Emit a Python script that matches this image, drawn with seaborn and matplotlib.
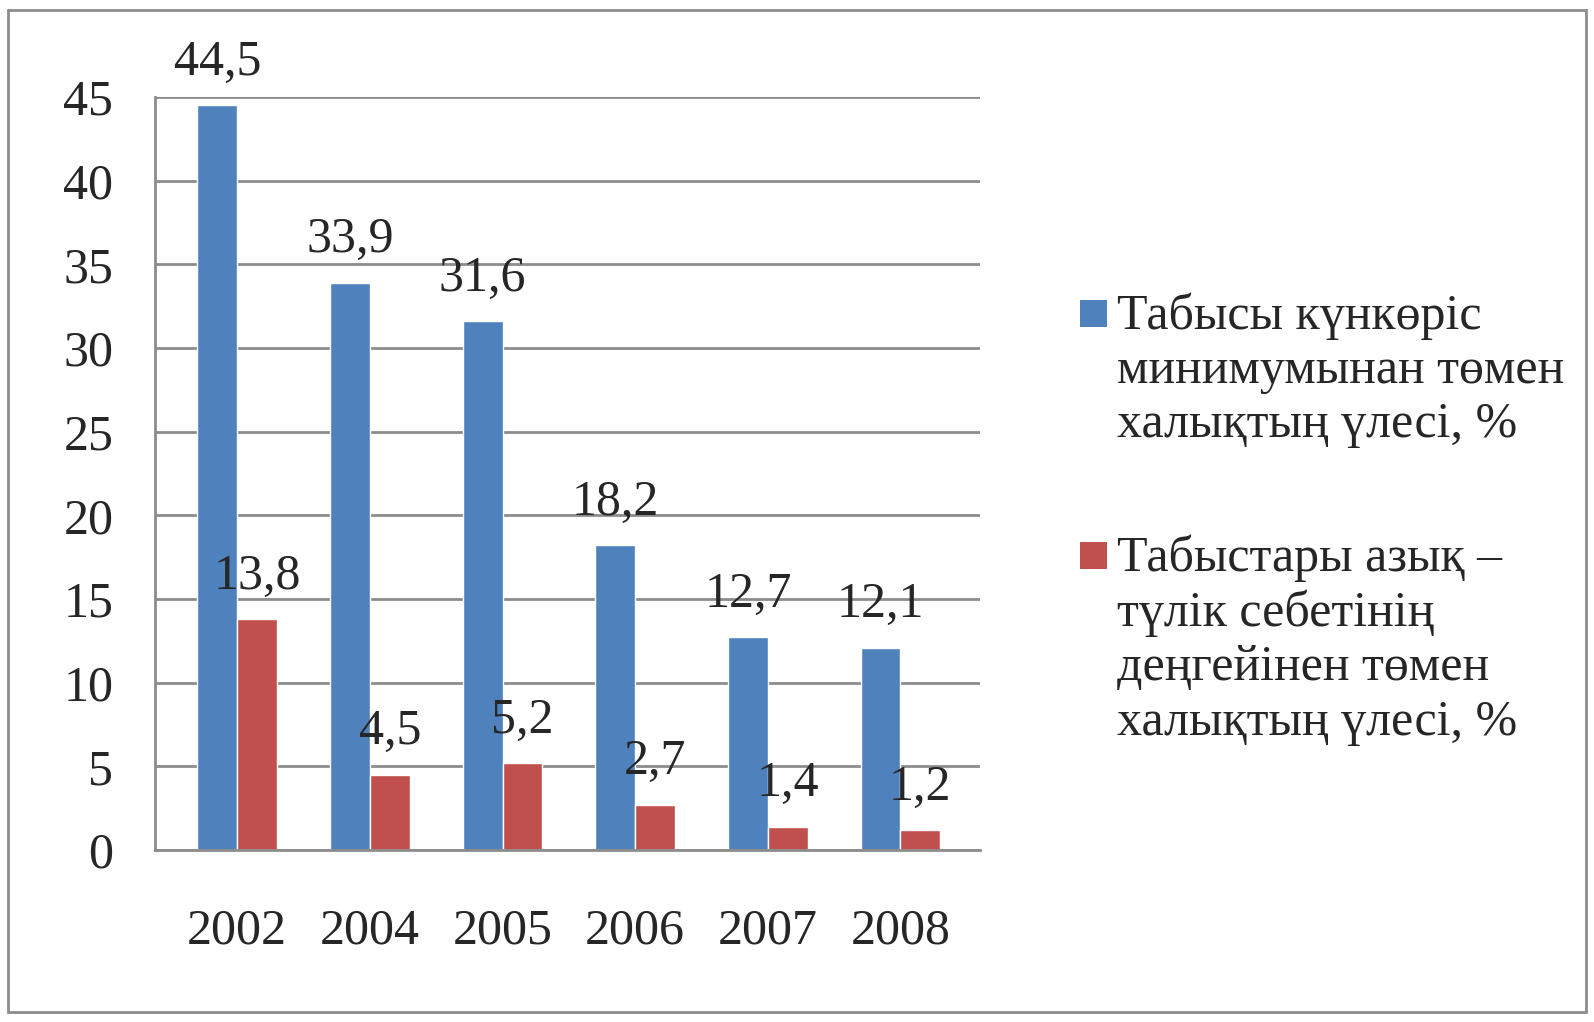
import numpy as np
import pandas as pd
import seaborn as sns
import matplotlib.pyplot as plt
from matplotlib.patches import Rectangle

years = ['2002', '2004', '2005', '2006', '2007', '2008']
below_subsistence = [44.5, 33.9, 31.6, 18.2, 12.7, 12.1]
below_food_basket = [13.8, 4.5, 5.2, 2.7, 1.4, 1.2]
series_names = ['Табысы күнкөріс\nминимумынан төмен\nхалықтың үлесі, %',
                'Табыстары азық –\nтүлік себетінің\nдеңгейінен төмен\nхалықтың үлесі, %']
colors = ['#4F81BD', '#C0504D']

df = pd.DataFrame({
    'year': years * 2,
    'value': below_subsistence + below_food_basket,
    'series': [series_names[0]] * len(years) + [series_names[1]] * len(years),
})

sns.set_style('white')
plt.rcParams['font.family'] = ['Liberation Serif', 'DejaVu Serif']
FS = 36
GREY = '#8C8C8C'

W, H = 1594, 1022
fig = plt.figure(figsize=(W / 100, H / 100), dpi=100)
ax = fig.add_axes([155 / W, 1 - 850 / H, 825 / W, (850 - 97) / H])

sns.barplot(data=df, x='year', y='value', hue='series', palette=colors,
            width=0.6, gap=0, ax=ax, legend=False, saturation=1)

for container in ax.containers:
    labels = [f'{v:.1f}'.replace('.', ',') for v in container.datavalues]
    ax.bar_label(container, labels=labels, padding=14, fontsize=FS)

ax.set_ylim(0, 45)
ax.set_yticks(range(0, 46, 5))
ax.set_xlim(-0.62, 5.6)
ax.yaxis.grid(True, color=GREY, linewidth=2)
ax.set_axisbelow(True)
for side in ['top', 'right']:
    ax.spines[side].set_visible(False)
for side in ['left', 'bottom']:
    ax.spines[side].set_color(GREY)
    ax.spines[side].set_linewidth(2)
ax.set_xticks(np.arange(-0.5, 6, 1), minor=True)
ax.tick_params(axis='x', which='minor', length=16, color=GREY, width=1.5)
ax.tick_params(axis='x', which='major', length=0, pad=42, labelsize=FS)
ax.tick_params(axis='y', length=8, color=GREY, width=1.5, pad=22, labelsize=FS)
ax.set_xlabel('')
ax.set_ylabel('')

# legend drawn by hand so the marker sits next to the first line of text
for name, color, y_top in zip(series_names, colors, [300, 542]):
    fig.add_artist(Rectangle((1080 / W, 1 - (y_top + 27) / H), 27 / W, 27 / H,
                             transform=fig.transFigure, facecolor=color, edgecolor='none'))
    fig.text(1117 / W, 1 - (y_top - 8) / H, name, fontsize=FS, va='top',
             ha='left', linespacing=1.22)

fig.add_artist(Rectangle((8 / W, 10 / H), (W - 16) / W, (H - 20) / H, transform=fig.transFigure,
                         fill=False, edgecolor=GREY, linewidth=2))

fig.savefig('out.png', dpi=100)
